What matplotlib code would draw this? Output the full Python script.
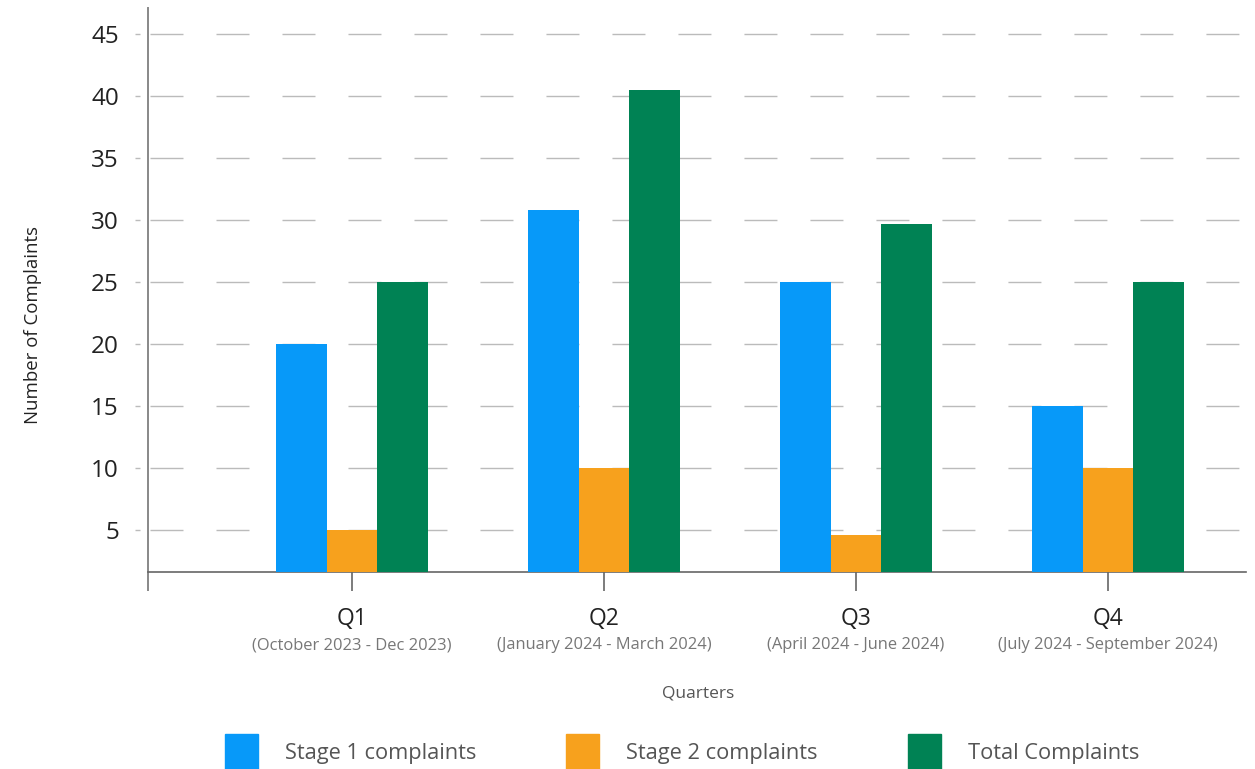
import matplotlib.pyplot as plt
from matplotlib.patches import Rectangle
import numpy as np

quarters = ["Q1", "Q2", "Q3", "Q4"]
periods = ["(October 2023 - Dec 2023)", "(January 2024 - March 2024)",
           "(April 2024 - June 2024)", "(July 2024 - September 2024)"]
stage1 = [20, 30.8, 25, 15]
stage2 = [5, 10, 4.6, 10]
total = [25, 40.5, 29.7, 25]

series = [
    ("Stage 1 complaints", stage1, "#0799F9"),
    ("Stage 2 complaints", stage2, "#F7A11D"),
    ("Total Complaints", total, "#008254"),
]

plt.rcParams['font.family'] = ['Open Sans', 'DejaVu Sans']

W, H = 1255, 769
fig = plt.figure(figsize=(W / 100, H / 100), dpi=100)
ax = fig.add_axes([148 / W, 196.7 / H, 1098 / W, 564.3 / H])

x = np.arange(len(quarters))
bw = 0.2
for i, (name, vals, col) in enumerate(series):
    ax.bar(x + (i - 1) * bw, vals, width=bw, color=col, zorder=3)

ax.set_xlim(-0.81, 3.548)
ax.set_ylim(1.59, 47.07)

# dashed grid, 33px on / 33px off
yt = [5, 10, 15, 20, 25, 30, 35, 40, 45]
ax.set_yticks(yt)
ax.set_yticklabels([str(v) for v in yt])
dash = 33 / 1.389
ax.grid(axis='y', color='#bbbbbb', linewidth=1.0,
        linestyle=(dash + 31 / 1.389, (dash, dash)), zorder=0)
ax.tick_params(axis='y', length=0, pad=21, labelsize=17.5, labelcolor='#222222')
ax.hlines(yt, -13 / 1098, -8 / 1098, transform=ax.get_yaxis_transform(),
          color='#bbbbbb', linewidth=1.0, clip_on=False)

ax.set_xticks(x)
ax.set_xticklabels(quarters)
ax.tick_params(axis='x', length=19 / 1.389, width=1.2, color='#666666',
               pad=11, labelsize=16.5, labelcolor='#222222')
# extend the left spine down like the category ticks
ax.set_xticks([-0.81], minor=True)
ax.tick_params(axis='x', which='minor', length=19 / 1.389, width=1.4, color='#888888')

for xi, p in zip(x, periods):
    ax.text(xi, -73 / 564.3, p, transform=ax.get_xaxis_transform(),
            ha='center', va='center', fontsize=11.9, color='#777777')

for s in ['top', 'right']:
    ax.spines[s].set_visible(False)
ax.spines['left'].set_color('#888888')
ax.spines['left'].set_linewidth(1.4)
ax.spines['bottom'].set_color('#666666')
ax.spines['bottom'].set_linewidth(1.2)

fig.text(698 / W, 1 - 693 / H, "Quarters", ha='center', va='center',
         fontsize=12.5, color='#555555')
fig.text(33 / W, 1 - 325 / H, "Number of Complaints", ha='center', va='center',
         rotation=90, fontsize=13.4, color='#222222')

# legend row along the bottom edge
for (name, vals, col), lx in zip(series, [225, 566, 908]):
    fig.patches.append(Rectangle((lx / W, 0), 33 / W, 35 / H, color=col,
                                 transform=fig.transFigure, figure=fig))
    fig.text((lx + 60) / W, 1 - 754 / H, name, ha='left', va='center',
             fontsize=15.7, color='#555555')

fig.savefig("out.png", dpi=100)
